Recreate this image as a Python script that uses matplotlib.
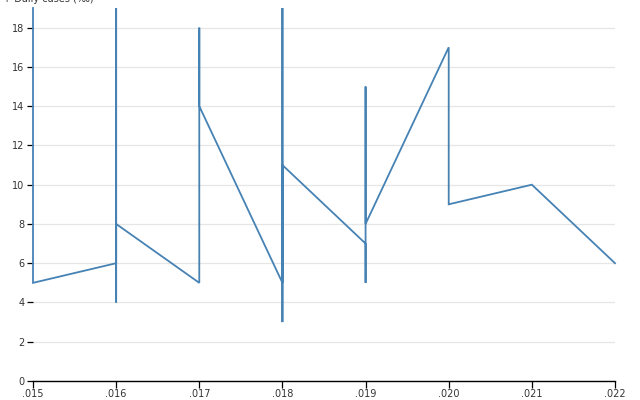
import matplotlib
matplotlib.use("Agg")
import matplotlib.pyplot as plt
from matplotlib.ticker import FuncFormatter

# data: sequence of points (x repeated -> vertical segments)
x_vals = [0.015, 0.015, 0.016, 0.016, 0.016, 0.016, 0.017, 0.017, 0.017,
          0.018, 0.018, 0.018, 0.018, 0.019, 0.019, 0.019, 0.019,
          0.020, 0.020, 0.021, 0.022]
y_vals = [19, 5, 6, 19, 4, 8, 5, 18, 14,
          5, 19, 3, 11, 7, 5, 15, 8,
          17, 9, 10, 6]
x_ticks = [0.015, 0.016, 0.017, 0.018, 0.019, 0.020, 0.021, 0.022]
y_ticks = [0, 2, 4, 6, 8, 10, 12, 14, 16, 18]
y_label = "↑ Daily cases (‰)"

plt.rcParams['font.family'] = ['DejaVu Sans']
fig = plt.figure(figsize=(6.4, 4.0), dpi=100)
ax = fig.add_axes([33/640, 19/400, (615-33)/640, (381-8)/400])

ax.plot(x_vals, y_vals, color="#4682b4", linewidth=1.3, solid_joinstyle="miter",
        clip_on=False)

ax.set_xlim(0.015, 0.022)
ax.set_ylim(0, 19)
ax.set_xticks(x_ticks)
ax.set_yticks(y_ticks)
ax.xaxis.set_major_formatter(FuncFormatter(lambda v, p: ("%.3f" % v)[1:]))
ax.yaxis.set_major_formatter(FuncFormatter(lambda v, p: "%d" % v))

for sp in ["top", "right", "left"]:
    ax.spines[sp].set_visible(False)
ax.spines["bottom"].set_color("black")
ax.spines["bottom"].set_linewidth(1)

ax.grid(axis="y", color="#e6e6e6", linewidth=0.9)
ax.set_axisbelow(True)
ax.tick_params(axis="x", length=5, width=0.9, pad=1, labelsize=7, colors="black",
               labelcolor="#333333")
ax.tick_params(axis="y", length=4, width=0.9, pad=2, labelsize=7, colors="black",
               labelcolor="#333333")

fig.text(3/640, 1 + 1/400, y_label, ha="left", va="center", fontsize=7,
         color="#333333")

fig.savefig("out.png", dpi=100)
